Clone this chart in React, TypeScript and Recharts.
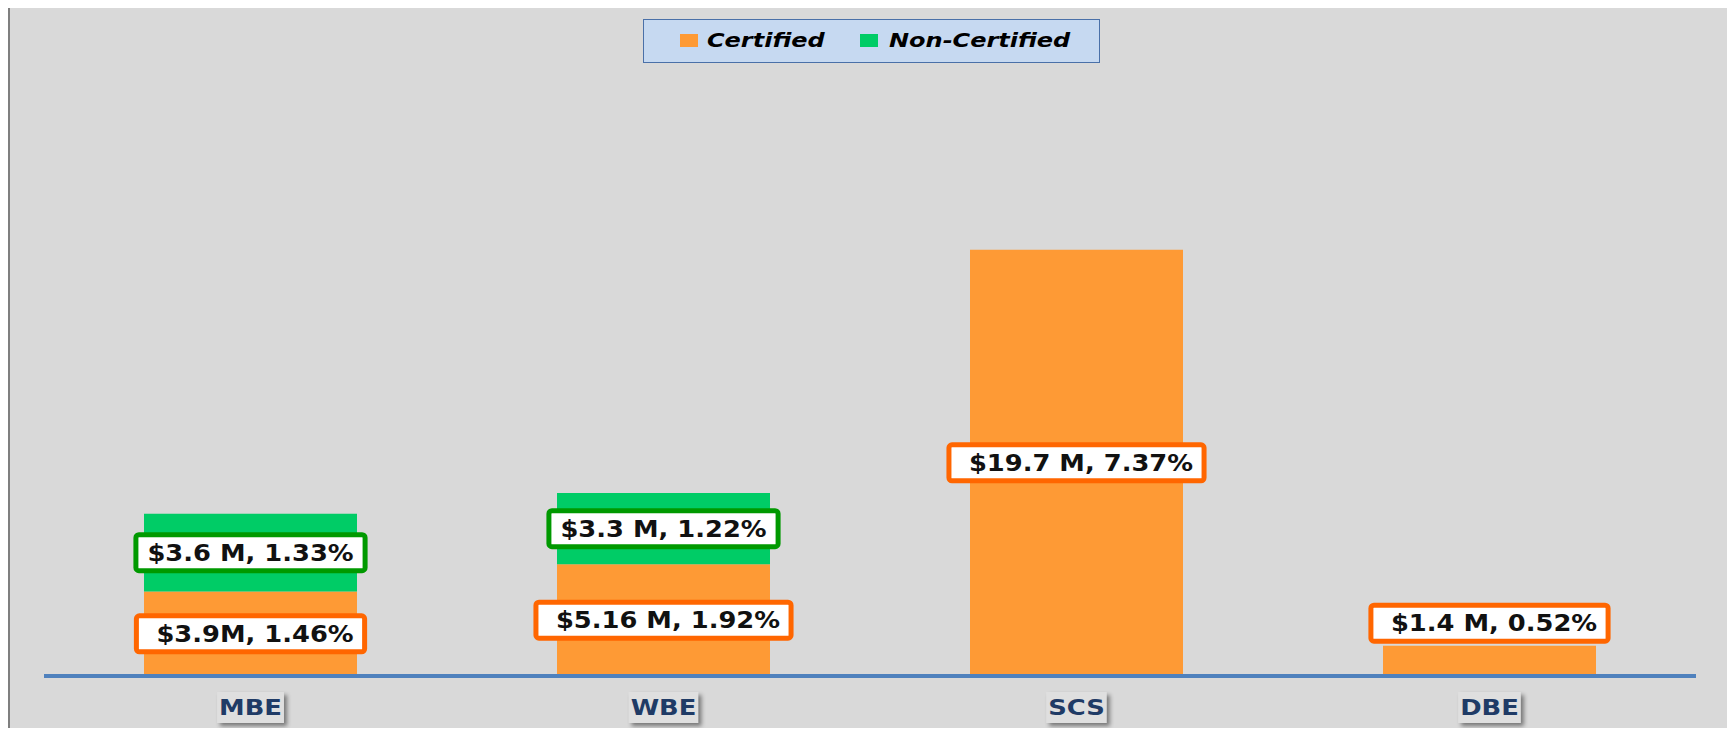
import React, { useLayoutEffect, useRef, useState } from 'react';
import { BarChart, Bar, XAxis, YAxis, LabelList } from 'recharts';

const categories = ['MBE', 'WBE', 'SCS', 'DBE'];
const certified = [3.9, 5.16, 19.7, 1.4];
const nonCertified = [3.6, 3.3, 0, 0];
const certifiedLabels = ['$3.9M, 1.46%', '$5.16 M, 1.92%', '$19.7 M, 7.37%', '$1.4 M, 0.52%'];
const nonCertifiedLabels = ['$3.6 M, 1.33%', '$3.3 M, 1.22%', '', ''];
const seriesNames = ['Certified', 'Non-Certified'];

const ORANGE = '#fe9a35';
const GREEN = '#00cc66';
const FONT = '"DejaVu Sans", Verdana, sans-serif';

const data = categories.map((name, i) => ({
    name,
    certified: certified[i],
    nonCertified: nonCertified[i],
    certLabel: certifiedLabels[i],
    nonCertLabel: nonCertifiedLabels[i],
}));

// text inside a box that is sized from the measured text
function BoxedText({ cx, cy, text, padL, padR, boxH, fill, stroke, strokeWidth, rx, fontSize, scaleX, color, shadow }: any) {
    const ref = useRef<SVGTextElement>(null);
    const [w, setW] = useState(text.length * fontSize * 0.62 * scaleX);
    useLayoutEffect(() => {
        if (ref.current) setW(ref.current.getBBox().width * scaleX);
    }, [text, scaleX]);
    const bw = w + padL + padR;
    // box stays centred, text is nudged by the padding difference
    const tx = cx + (padL - padR) / 2;
    return (
        <g>
            <rect
                x={cx - bw / 2}
                y={cy - boxH / 2}
                width={bw}
                height={boxH}
                rx={rx}
                fill={fill}
                stroke={stroke}
                strokeWidth={strokeWidth}
                style={shadow ? { filter: 'drop-shadow(3px 3px 2px rgba(0,0,0,0.45))' } : undefined}
            />
            <text
                ref={ref}
                transform={`translate(${tx},${cy}) scale(${scaleX},1)`}
                textAnchor="middle"
                dy="0.35em"
                fontFamily={FONT}
                fontWeight="bold"
                fontSize={fontSize}
                fill={color}
            >
                {text}
            </text>
        </g>
    );
}

function makeLabel(border: string, padL: number, padR: number) {
    return (props: any) => {
        const { x, y, width, height, value } = props;
        if (!value) return null;
        const boxH = 36;
        const h = Math.abs(height);
        const top = Math.min(y, y + height);
        // small segments get their label above the bar
        const cy = h < boxH + 8 ? top - boxH / 2 - 4.5 : top + h / 2;
        return (
            <BoxedText
                cx={x + width / 2}
                cy={cy}
                text={String(value)}
                padL={padL}
                padR={padR}
                boxH={boxH}
                rx={3}
                fill="#ffffff"
                stroke={border}
                strokeWidth={5}
                fontSize={23}
                scaleX={1.12}
                color="#111111"
            />
        );
    };
}

const CategoryTick = (props: any) => {
    const { x, y, payload } = props;
    return (
        <BoxedText
            cx={x}
            cy={y + 31.5}
            text={payload.value}
            padL={2}
            padR={2}
            boxH={31}
            rx={0}
            fill="#dfdfdf"
            stroke="none"
            strokeWidth={0}
            fontSize={21.5}
            scaleX={1.2}
            color="#1f3b66"
            shadow
        />
    );
};

function ChartLegend() {
    const colors = [ORANGE, GREEN];
    const markerX = [37, 217];
    const textX = [64, 246];
    return (
        <svg width={458} height={45} style={{ position: 'absolute', left: 643, top: 19 }}>
            <rect x={0.5} y={0.5} width={456} height={43} fill="#c6d9f1" stroke="#4a70a8" strokeWidth={1} />
            {seriesNames.map((name, i) => (
                <g key={name}>
                    <rect x={markerX[i]} y={15} width={18} height={13} fill={colors[i]} />
                    <text
                        transform={`translate(${textX[i]},28) scale(1.2,1)`}
                        fontFamily={FONT}
                        fontWeight="bold"
                        fontStyle="italic"
                        fontSize={20}
                        fill="#000000"
                    >
                        {name}
                    </text>
                </g>
            ))}
        </svg>
    );
}

export default function App() {
    return (
        <div style={{ position: 'relative', margin: -8, width: 1735, height: 736, overflow: 'hidden', background: '#ebebeb' }}>
            <div
                style={{
                    position: 'absolute',
                    left: 7,
                    top: 3,
                    width: 1728,
                    height: 800,
                    boxSizing: 'border-box',
                    border: '3px solid #7f7f7f',
                    background: '#d9d9d9',
                }}
            />
            <div style={{ position: 'absolute', left: 0, top: 0 }}>
                <BarChart
                    width={1735}
                    height={736}
                    data={data}
                    margin={{ top: 135, right: 39, left: 44, bottom: 10 }}
                >
                    <XAxis
                        dataKey="name"
                        height={50}
                        tickLine={false}
                        tickSize={0}
                        tickMargin={0}
                        axisLine={{ stroke: '#4f81bd', strokeWidth: 4 }}
                        tick={<CategoryTick />}
                    />
                    <YAxis hide domain={[0, 25]} />
                    <Bar dataKey="certified" stackId="a" fill={ORANGE} barSize={213} isAnimationActive={false}>
                        <LabelList dataKey="certLabel" content={makeLabel('#ff6600', 20, 11)} />
                    </Bar>
                    <Bar dataKey="nonCertified" stackId="a" fill={GREEN} barSize={213} isAnimationActive={false}>
                        <LabelList dataKey="nonCertLabel" content={makeLabel('#009900', 11.5, 11.5)} />
                    </Bar>
                </BarChart>
            </div>
            <ChartLegend />
        </div>
    );
}
